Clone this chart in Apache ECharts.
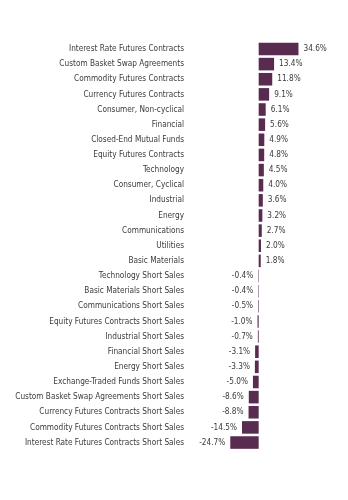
<!DOCTYPE html>
<html><head><meta charset="utf-8">
<script src="https://cdn.jsdelivr.net/npm/echarts@6/dist/echarts.min.js"></script>
<style>html,body{margin:0;padding:0;background:#fff}#c{width:348px;height:500px}</style>
</head><body><div id="c"></div>
<script>
const categories = ["Interest Rate Futures Contracts","Custom Basket Swap Agreements","Commodity Futures Contracts","Currency Futures Contracts","Consumer, Non-cyclical","Financial","Closed-End Mutual Funds","Equity Futures Contracts","Technology","Consumer, Cyclical","Industrial","Energy","Communications","Utilities","Basic Materials","Technology Short Sales","Basic Materials Short Sales","Communications Short Sales","Equity Futures Contracts Short Sales","Industrial Short Sales","Financial Short Sales","Energy Short Sales","Exchange-Traded Funds Short Sales","Custom Basket Swap Agreements Short Sales","Currency Futures Contracts Short Sales","Commodity Futures Contracts Short Sales","Interest Rate Futures Contracts Short Sales"];
const values = [34.6,13.4,11.8,9.1,6.1,5.6,4.9,4.8,4.5,4.0,3.6,3.2,2.7,2.0,1.8,-0.4,-0.4,-0.5,-1.0,-0.7,-3.1,-3.3,-5.0,-8.6,-8.8,-14.5,-24.7];
const FONT = '"Liberation Sans Narrow", "DejaVu Sans Condensed", sans-serif';
const chart = echarts.init(document.getElementById('c'));
chart.setOption({
  animation:false,
  grid:{left:190,right:8,top:41.4,bottom:49.9,containLabel:false,outerBoundsMode:'none'},
  xAxis:{type:'value',min:-59.7,max:70.7,show:false},
  yAxis:{type:'category',data:categories,inverse:true,
    axisLine:{show:false},axisTick:{show:false},splitLine:{show:false},
    axisLabel:{margin:6,fontFamily:FONT,fontSize:8.2,color:'#3a3a3a'}},
  series:[{type:'bar',barCategoryGap:'17%',
    data:values.map(v=>({value:v,label:{position:v<0?'left':'right'}})),
    itemStyle:{color:'#5a2b50'},
    label:{show:true,fontFamily:FONT,fontSize:8.2,color:'#3a3a3a',distance:5,
      formatter:p=>p.value.toFixed(1)+'%'}
  }]
});
</script></body></html>
